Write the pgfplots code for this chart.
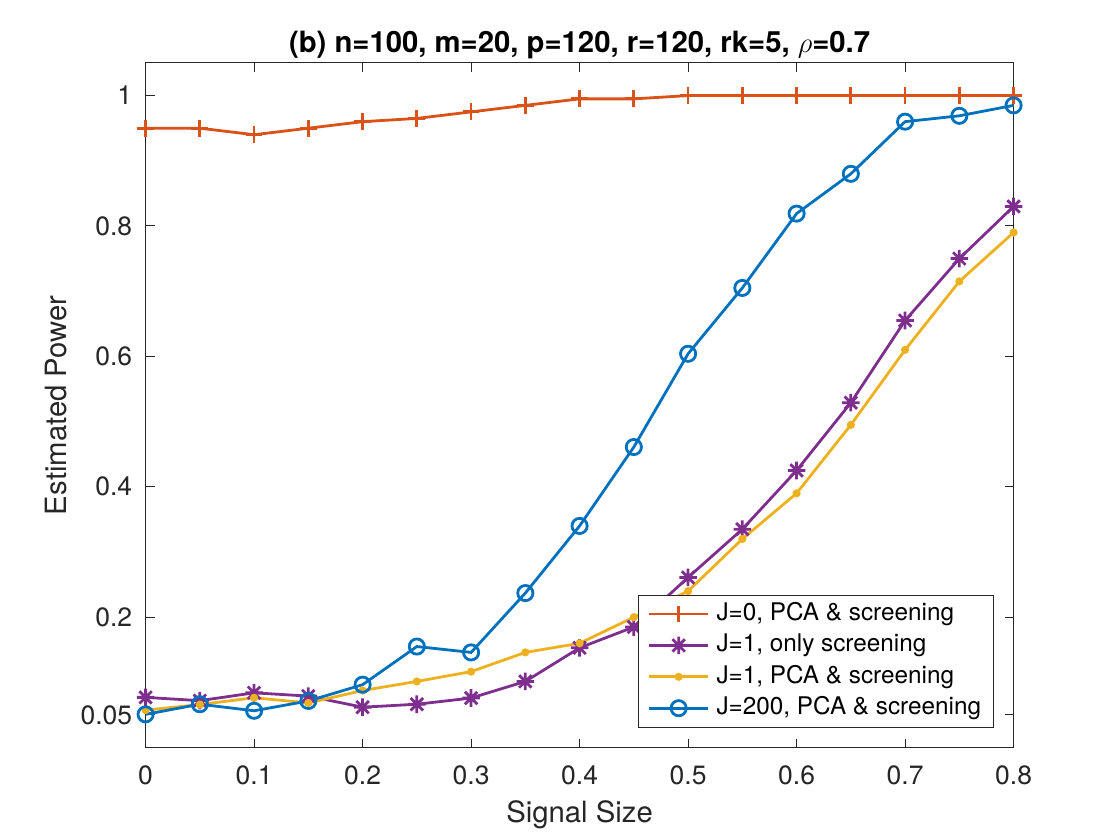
\documentclass[border=0pt]{standalone}
\usepackage{fontspec}
\setmainfont{TeX Gyre Heros}
\usepackage{pgfplots}
\pgfplotsset{compat=1.18}
\definecolor{c1}{rgb}{0.850,0.325,0.098}
\definecolor{c2}{rgb}{0.494,0.184,0.556}
\definecolor{c3}{rgb}{0.929,0.694,0.125}
\definecolor{c4}{rgb}{0,0.447,0.741}
\definecolor{axgray}{rgb}{0.15,0.15,0.15}
\pgfdeclareplotmark{mstar}{%
  \pgfpathmoveto{\pgfqpoint{0pt}{\pgfplotmarksize}}\pgfpathlineto{\pgfqpoint{0pt}{-\pgfplotmarksize}}%
  \pgfpathmoveto{\pgfqpoint{\pgfplotmarksize}{0pt}}\pgfpathlineto{\pgfqpoint{-\pgfplotmarksize}{0pt}}%
  \pgfpathmoveto{\pgfqpoint{.707\pgfplotmarksize}{.707\pgfplotmarksize}}\pgfpathlineto{\pgfqpoint{-.707\pgfplotmarksize}{-.707\pgfplotmarksize}}%
  \pgfpathmoveto{\pgfqpoint{-.707\pgfplotmarksize}{.707\pgfplotmarksize}}\pgfpathlineto{\pgfqpoint{.707\pgfplotmarksize}{-.707\pgfplotmarksize}}%
  \pgfusepathqstroke}
\begin{document}
\begin{tikzpicture}
\useasboundingbox (-72.8bp,-46.2bp) rectangle (487.2bp,373.8bp);
\begin{axis}[
  at={(0,0)}, anchor=south west, scale only axis,
  width=434bp, height=342.3bp,
  xmin=0, xmax=0.8, ymin=0, ymax=1.05,
  clip=false,
  xtick={0,0.1,0.2,0.3,0.4,0.5,0.6,0.7,0.8},
  xticklabels={0,0.1,0.2,0.3,0.4,0.5,0.6,0.7,0.8},
  ytick={0.05,0.2,0.4,0.6,0.8,1},
  yticklabels={0.05,0.2,0.4,0.6,0.8,1},
  /pgf/number format/assume math mode=true,
  axis line style={axgray, line width=0.5bp},
  tick style={axgray, line width=0.5bp},
  major tick length=4.5bp,
  tick align=inside,
  xticklabel style={font=\fontsize{13.3}{16}\selectfont, text=axgray, anchor=base, yshift=-18.7bp},
  yticklabel style={font=\fontsize{13.3}{16}\selectfont, text=axgray, anchor=east, inner sep=0pt, xshift=-6.5bp},
  xlabel={Signal Size},
  xlabel style={at={(axis description cs:0.5,-0.1087)}, anchor=base, font=\fontsize{14.7}{17}\selectfont, text=axgray, inner sep=0pt},
  ylabel={Estimated Power},
  ylabel style={at={(axis description cs:-0.0906,0.5)}, anchor=south, font=\fontsize{14.7}{17}\selectfont, text=axgray, inner sep=0pt},
  legend cell align=left,
  legend style={at={(axis description cs:1,0)}, anchor=south east, xshift=-10bp, yshift=10bp,
    draw=axgray, line width=0.5bp, fill=white, font=\fontsize{12.2}{14}\selectfont,
    inner xsep=4.5bp, inner ysep=1.6bp, row sep=0pt, column sep=2bp,
    nodes={inner xsep=1.5bp, inner ysep=2.25bp, text height=8.7bp, text depth=2.5bp}},
  legend image code/.code={\draw[mark repeat=2,mark phase=2] plot coordinates {(0bp,0bp) (14.75bp,0bp) (29.5bp,0bp)};},
]
\addplot[c1, line width=1.4bp, mark=+, mark size=4.2bp] coordinates {
(0,0.95) (0.05,0.95) (0.1,0.94) (0.15,0.95) (0.2,0.96) (0.25,0.965) (0.3,0.975) (0.35,0.985) (0.4,0.995)
(0.45,0.995) (0.5,1) (0.55,1) (0.6,1) (0.65,1) (0.7,1) (0.75,1) (0.8,1)};
\addlegendentry{J=0, PCA \& screening}
\addplot[c2, line width=1.4bp, mark=mstar, mark size=4.4bp] coordinates {
(0,0.077) (0.05,0.072) (0.1,0.084) (0.15,0.079) (0.2,0.062) (0.25,0.0665) (0.3,0.076) (0.35,0.1015) (0.4,0.153)
(0.45,0.185) (0.5,0.261) (0.55,0.335) (0.6,0.425) (0.65,0.529) (0.7,0.655) (0.75,0.75) (0.8,0.83)};
\addlegendentry{J=1, only screening}
\addplot[c3, line width=1.4bp, mark=*, mark size=1.3bp] coordinates {
(0,0.0575) (0.05,0.066) (0.1,0.0765) (0.15,0.0685) (0.2,0.0875) (0.25,0.1015) (0.3,0.1165) (0.35,0.146) (0.4,0.16)
(0.45,0.2) (0.5,0.24) (0.55,0.32) (0.6,0.39) (0.65,0.495) (0.7,0.61) (0.75,0.715) (0.8,0.79)};
\addlegendentry{J=1, PCA \& screening}
\addplot[c4, line width=1.4bp, mark=o, mark size=3.8bp] coordinates {
(0,0.051) (0.05,0.0665) (0.1,0.0565) (0.15,0.0715) (0.2,0.0965) (0.25,0.155) (0.3,0.146) (0.35,0.237) (0.4,0.34)
(0.45,0.461) (0.5,0.604) (0.55,0.705) (0.6,0.819) (0.65,0.88) (0.7,0.96) (0.75,0.969) (0.8,0.985)};
\addlegendentry{J=200, PCA \& screening}
\node[anchor=base, inner sep=0pt, font=\bfseries\fontsize{14.7}{17}\selectfont] at (axis description cs:0.5,1.016) {(b) n=100, m=20, p=120, r=120, rk=5, $\rho$=0.7};
\end{axis}
\end{tikzpicture}
\end{document}
